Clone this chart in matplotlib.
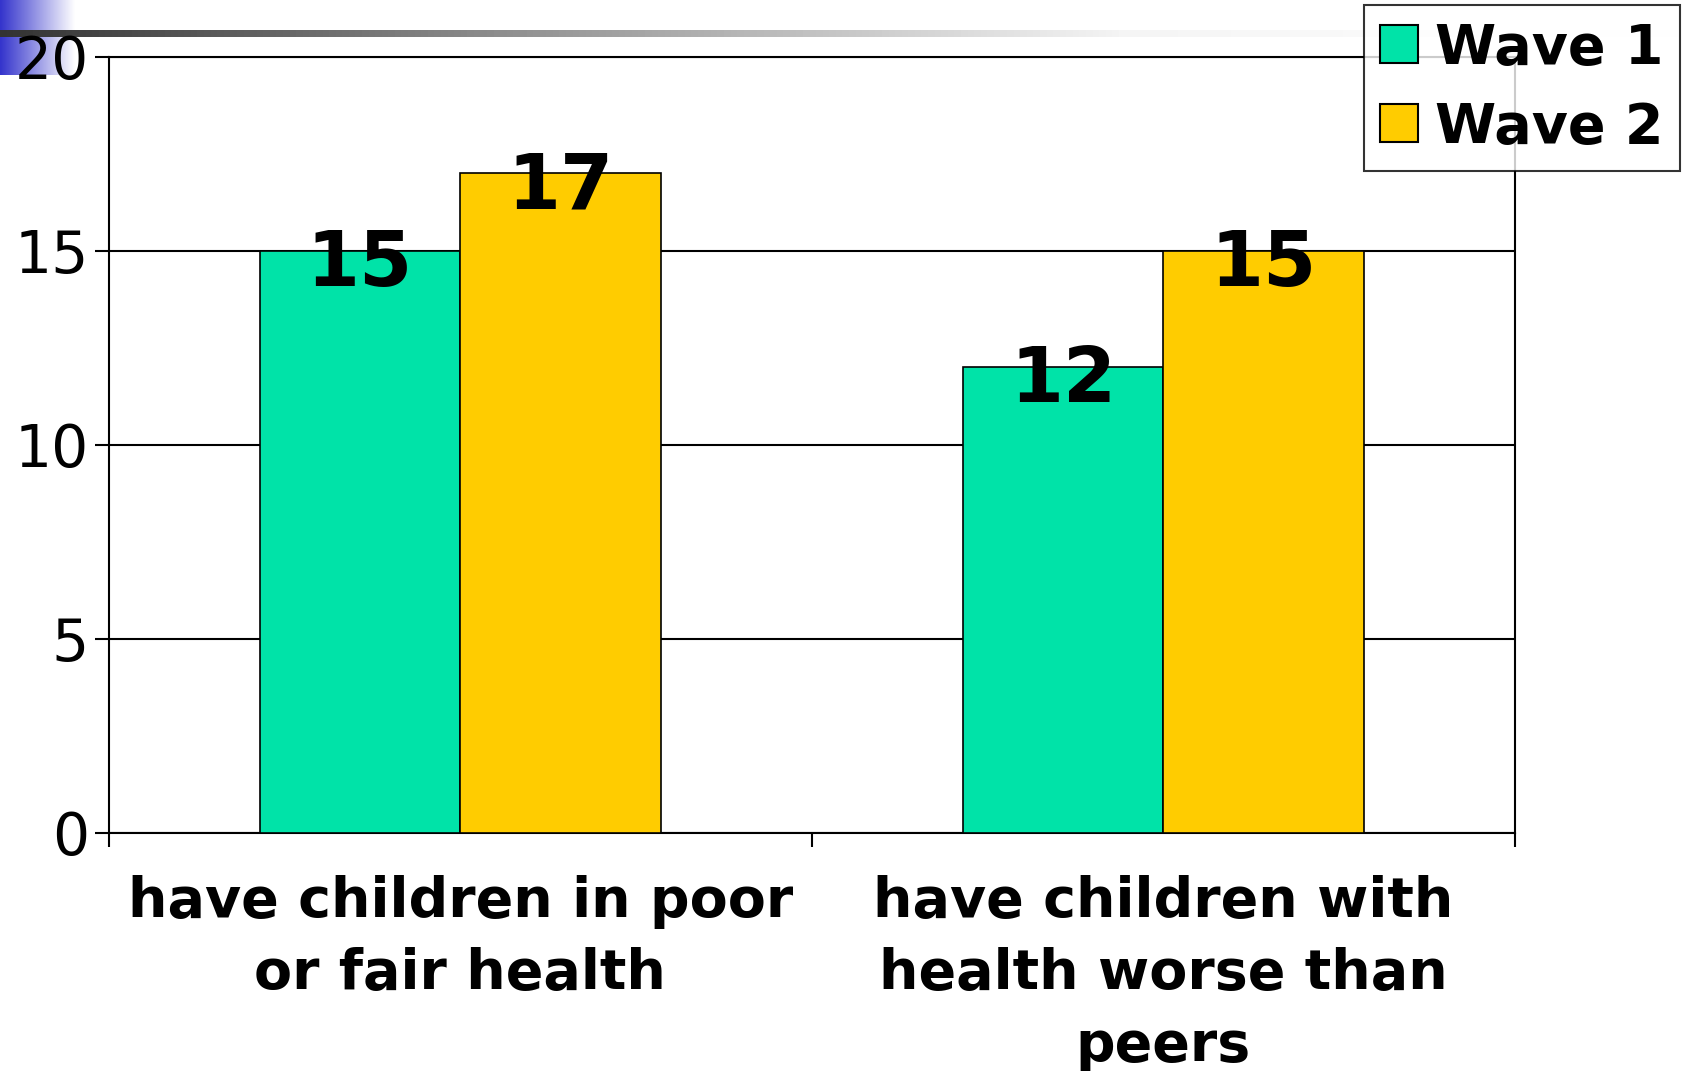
import numpy as np
import matplotlib.pyplot as plt
from matplotlib.patches import Patch
from matplotlib.colors import LinearSegmentedColormap

categories = ['have children in poor\nor fair health',
              'have children with\nhealth worse than\npeers']
wave1 = [15, 12]
wave2 = [17, 15]
series_names = ['Wave 1', 'Wave 2']
colors = ['#00E3A8', '#FFCC00']
yticks = [0, 5, 10, 15, 20]

plt.rcParams['font.family'] = ['DejaVu Sans']

W, H = 1685, 1071
fig = plt.figure(figsize=(W / 100, H / 100), dpi=100)

# slide decoration: blue corner block and grey bar
deco = fig.add_axes([0, 0, 1, 1], zorder=-5)
deco.set_xlim(0, W)
deco.set_ylim(H, 0)
deco.axis('off')
grad = np.linspace(0, 1, 256).reshape(1, -1)
bcmap = LinearSegmentedColormap.from_list('b', ['#3333CC', '#FFFFFF'])
deco.imshow(grad, cmap=bcmap, extent=[0, 75, 75, 0], aspect='auto')
gcmap = LinearSegmentedColormap.from_list('g', ['#333333', '#999999', '#F5F5F5', '#FFFFFF'])
deco.imshow(grad, cmap=gcmap, extent=[0, 1685, 37, 30], aspect='auto')

ax = fig.add_axes([108.5 / W, 1 - 833 / H, (1515 - 108.5) / W, (833 - 57) / H])
x = np.arange(len(categories))
w = 0.285
b1 = ax.bar(x - w / 2, wave1, w, color=colors[0], edgecolor='black', linewidth=1.2, zorder=3)
b2 = ax.bar(x + w / 2, wave2, w, color=colors[1], edgecolor='black', linewidth=1.2, zorder=3)

for bars, vals in [(b1, wave1), (b2, wave2)]:
    for r, v in zip(bars, vals):
        ax.text(r.get_x() + r.get_width() / 2, v - 0.9, str(v), ha='center', va='baseline',
                fontsize=55, fontweight='bold', zorder=4)

ax.set_xlim(-0.5, 1.5)
ax.set_ylim(0, 20)
ax.set_yticks(yticks)
ax.tick_params(axis='y', labelsize=42, length=10, width=1.5, pad=4)
ax.set_xticks(x)
ax.set_xticklabels(categories, fontsize=40, fontweight='bold', linespacing=1.43)
ax.tick_params(axis='x', which='major', length=0, pad=30)
ax.set_xticks([-0.5, 0.5, 1.5], minor=True)
ax.tick_params(axis='x', which='minor', length=10, width=1.5)
ax.grid(axis='y', color='black', linewidth=1.5, zorder=0)
ax.set_axisbelow(True)
for s in ax.spines.values():
    s.set_linewidth(1.5)

handles = [Patch(facecolor=c, edgecolor='black', linewidth=1.5) for c in colors]
leg = fig.legend(handles, series_names, loc='upper right', bbox_to_anchor=(1680 / W, 1 - 5 / H),
                 prop={'weight': 'bold', 'size': 40}, frameon=True, fancybox=False,
                 edgecolor='black', handlelength=0.68, handleheight=0.68, handletextpad=0.3,
                 borderpad=0.3, labelspacing=0.45, borderaxespad=0)
leg.get_frame().set_linewidth(1.5)

fig.savefig('out.png', dpi=100)
